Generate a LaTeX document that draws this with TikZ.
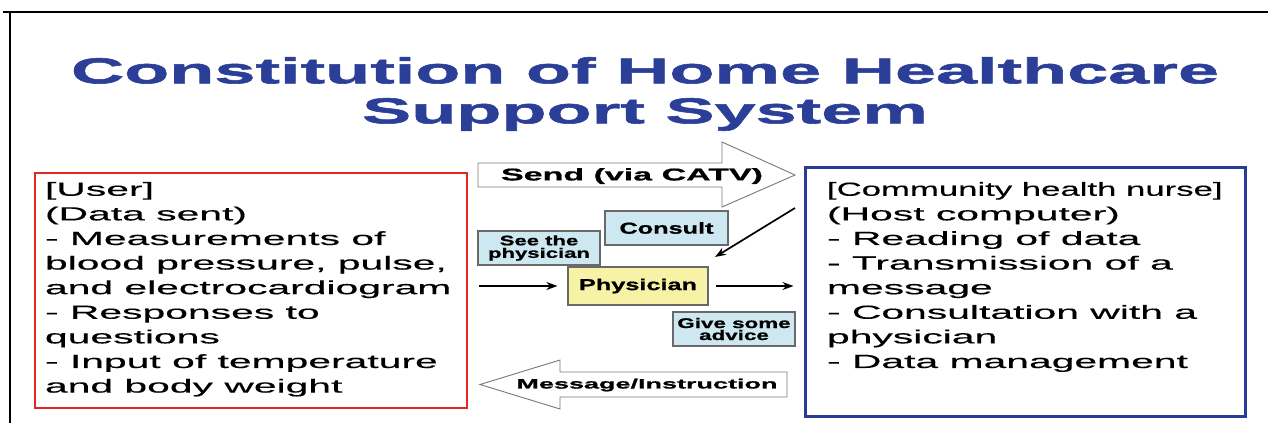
\documentclass[tikz,border=0pt]{standalone}
\usepackage{fontspec}
\usepackage{tikz}
\usetikzlibrary{arrows.meta}
\setmainfont{Liberation Sans}
\newfontfamily\headfont[FakeStretch=2.05,FakeBold=1.6]{Liberation Sans}
\newfontfamily\bodyfont[FakeStretch=2.15,FakeBold=0.3]{Liberation Sans}
\newfontfamily\bandfont[FakeStretch=2.0,FakeBold=1.0]{Liberation Sans}
\newfontfamily\tagfont[FakeStretch=1.6,FakeBold=1.0]{Liberation Sans}
\definecolor{title_blue}{RGB}{43,62,152}
\definecolor{user_red}{RGB}{225,40,35}
\definecolor{nurse_blue}{RGB}{38,60,150}
\definecolor{tag_blue}{RGB}{205,232,240}
\definecolor{tag_yellow}{RGB}{247,242,165}
\definecolor{tag_gray}{RGB}{105,105,105}
\definecolor{band_gray}{RGB}{120,120,120}

\begin{document}
\begin{tikzpicture}[->,>={Stealth[length=11pt,width=8pt]},x=1pt,y=-1pt]
    \tikzstyle{panel}=[draw, rectangle, inner ysep=0pt, text=black, font=\bodyfont\fontsize{19}{24.6}\selectfont]
    \tikzstyle{tag}=[draw=tag_gray, line width=1.2pt, rectangle, inner sep=0pt, align=center, text=black]
    \tikzstyle{band}=[-, draw=band_gray, fill=white, line width=0.9pt]
    \tikzstyle{bandtext}=[inner sep=0pt, text=black]
    \tikzstyle{link}=[->, black, line width=1.7pt]

    \useasboundingbox (0,0) rectangle (1268,423);
    \draw[-, line width=1.4pt] (3,12) -- (1268,12);
    \draw[-, line width=1.4pt] (10,12) -- (10,423);

    \node[inner sep=0pt, align=center, text=title_blue, font=\headfont\bfseries\fontsize{36}{40}\selectfont] (title) at (645,94)
      {Constitution of Home Healthcare\\Support System};

    % user side and nurse side
    \node[panel, draw=user_red, line width=1.8pt, inner xsep=10pt] (user) at (251,290.5)
      {\parbox[c][235pt][t]{412pt}{\raggedright\vspace*{9pt}[User]\\(Data sent)\\- Measurements of\\blood pressure, pulse,\\and electrocardiogram\\- Responses to\\questions\\- Input of temperature\\and body weight}};
    \node[panel, draw=nurse_blue, line width=3pt, inner xsep=22pt] (nurse) at (1025,291.5)
      {\parbox[c][249pt][t]{396pt}{\raggedright\vspace*{15pt}\scalebox{0.85}[1]{[Community health nurse]}\\(Host computer)\\- Reading of data\\- Transmission of a\\message\\- Consultation with a\\physician\\- Data management}};

    % block arrows
    \draw[band] (478,163) -- (722,163) -- (722,142) -- (795,175) -- (722,207) -- (722,187) -- (478,187) -- cycle;
    \node[bandtext, font=\bandfont\bfseries\fontsize{17}{20}\selectfont] (send) at (632,176) {Send (via CATV)};
    \draw[band] (787,372) -- (560,372) -- (560,360) -- (480,384.5) -- (560,409) -- (560,397) -- (787,397) -- cycle;
    \node[bandtext, font=\bandfont\bfseries\fontsize{13.5}{16}\selectfont] (msg) at (647,385) {Message/Instruction};

    \node[tag, fill=tag_blue, minimum width=123pt, minimum height=34pt, font=\tagfont\bfseries\fontsize{15.8}{18}\selectfont] (consult) at (666.5,228) {Consult};
    \node[tag, fill=tag_blue, minimum width=122pt, minimum height=34pt, font=\tagfont\bfseries\fontsize{13.8}{12.5}\selectfont] (see) at (539,248) {See the\\physician};
    \node[tag, fill=tag_yellow, minimum width=140pt, minimum height=38pt, font=\tagfont\bfseries\fontsize{15.8}{18}\selectfont] (phys) at (638,286) {Physician};
    \node[tag, fill=tag_blue, minimum width=122pt, minimum height=34pt, font=\tagfont\bfseries\fontsize{14}{12}\selectfont] (advice) at (734,329) {Give some\\advice};

    \coordinate (hook) at (795,208);
    \coordinate (drop) at (715,257);
    \path
     (user.east |- phys.west) edge[link, shorten <=11pt, shorten >=10pt] (phys.west)
     (phys.east) edge[link, shorten <=7pt, shorten >=10pt] (phys.east -| nurse.west)
     (hook) edge[link] (drop)
     ;
\end{tikzpicture}
\end{document}
